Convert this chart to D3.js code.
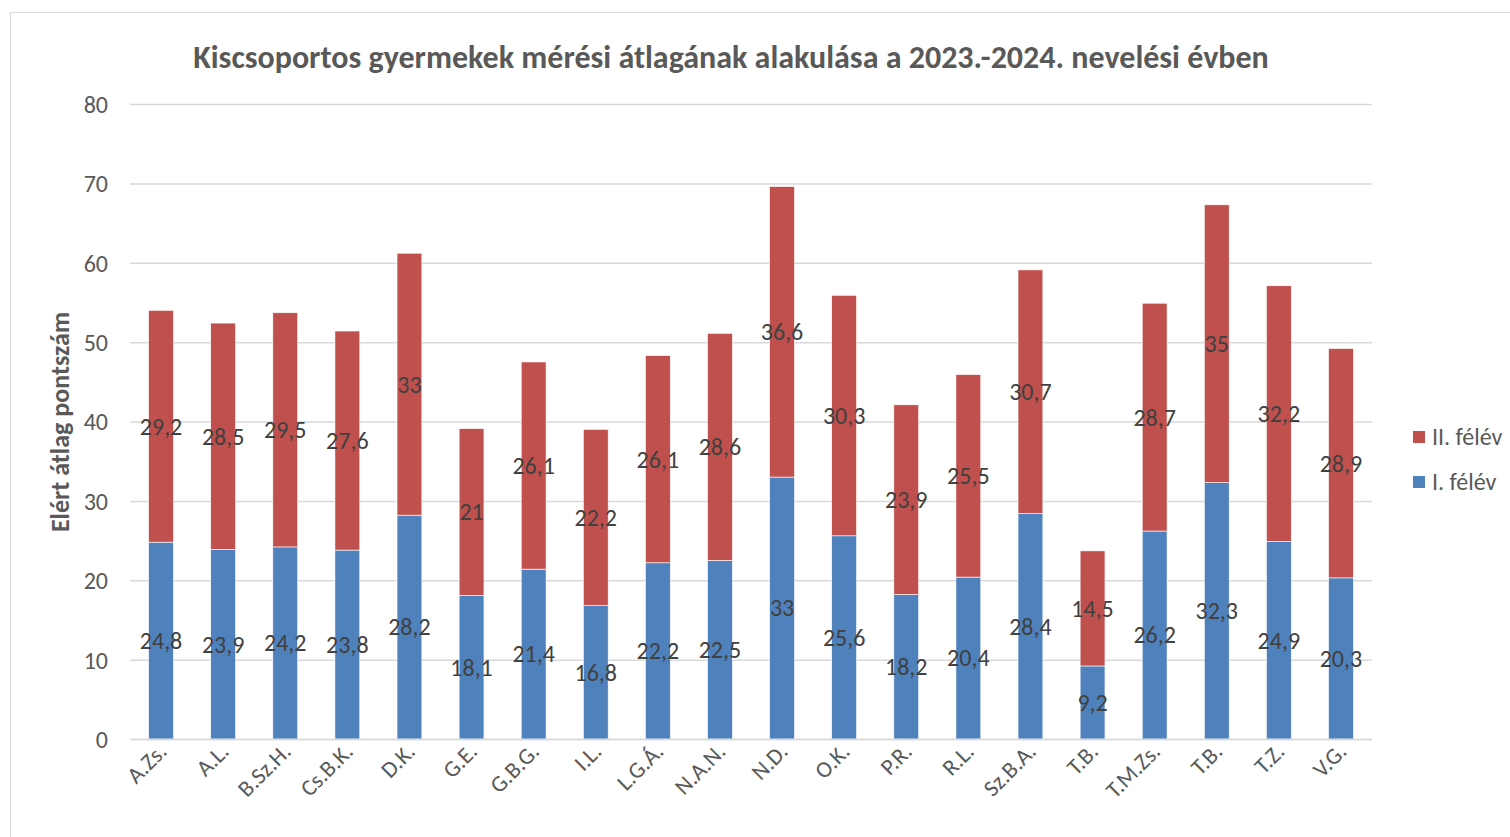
<!DOCTYPE html>
<html><head><meta charset="utf-8">
<script src="https://cdn.jsdelivr.net/npm/d3@7"></script>
<style>body{margin:0;background:#fff}svg{display:block}</style>
</head><body>
<svg id="c" width="1510" height="837"></svg>
<script>
const categories = ["A.Zs.","A.L.","B.Sz.H.","Cs.B.K.","D.K.","G.E.","G.B.G.","I.L.","L.G.Á.","N.A.N.","N.D.","O.K.","P.R.","R.L.","Sz.B.A.","T.B.","T.M.Zs.","T.B.","T.Z.","V.G."];
const semester1 = [24.8,23.9,24.2,23.8,28.2,18.1,21.4,16.8,22.2,22.5,33,25.6,18.2,20.4,28.4,9.2,26.2,32.3,24.9,20.3];
const semester2 = [29.2,28.5,29.5,27.6,33,21,26.1,22.2,26.1,28.6,36.6,30.3,23.9,25.5,30.7,14.5,28.7,35,32.2,28.9];
const seriesNames = ["I. félév","II. félév"];
const yTicks = [0,10,20,30,40,50,60,70,80];

(function(){
const colors = ["#4F81BD","#C0504D"];
const font = "Calibri, Carlito, 'Open Sans', sans-serif";
const svg = d3.select("#c");

svg.append("rect").attr("x",10.5).attr("y",12.5).attr("width",1520).attr("height",900)
  .attr("fill","none").attr("stroke","#D9D9D9").attr("stroke-width",1);

const pl = 130, pr = 1372, pt = 104, pb = 739;
const idx = categories.map((d,i)=>i);
const x = d3.scaleBand().domain(idx).range([pl,pr]).paddingInner(0.6).paddingOuter(0.3);
const y = d3.scaleLinear().domain([0,80]).range([pb,pt]);

svg.append("g").selectAll("line").data(yTicks).join("line")
  .attr("x1",pl).attr("x2",pr).attr("y1",d=>y(d)+0.5).attr("y2",d=>y(d)+0.5)
  .attr("stroke","#D9D9D9").attr("stroke-width",1.5);

const yAxis = d3.axisLeft(y).tickValues(yTicks).tickSize(0).tickPadding(0);
const yg = svg.append("g").attr("transform",`translate(${pl-22},0)`).call(yAxis);
yg.select(".domain").remove();
yg.selectAll("text").attr("font-family",font).attr("font-size",24).attr("fill","#595959").attr("dy","0.35em");

const stacked = categories.map((c,i)=>({i, v:[semester1[i],semester2[i]]}));
const fmt = v => String(v).replace(".",",");

[0,1].forEach(s=>{
  const g = svg.append("g");
  stacked.forEach(d=>{
    const base = s===0?0:d.v[0];
    const t2 = base + d.v[s];
    g.append("rect").attr("x",x(d.i)).attr("width",x.bandwidth())
      .attr("y",y(t2)).attr("height",y(base)-y(t2))
      .attr("fill",colors[s]).attr("stroke","#fff").attr("stroke-width",0.6);
  });
});
[0,1].forEach(s=>{
  stacked.forEach(d=>{
    const base = s===0?0:d.v[0];
    const mid = base + d.v[s]/2;
    svg.append("text").attr("x",x(d.i)+x.bandwidth()/2).attr("y",y(mid))
      .attr("dy","0.35em").attr("text-anchor","middle")
      .attr("font-family",font).attr("font-size",24).attr("fill","#404040")
      .text(fmt(d.v[s]));
  });
});

svg.append("line").attr("x1",pl).attr("x2",pr).attr("y1",pb+0.5).attr("y2",pb+0.5)
  .attr("stroke","#D9D9D9").attr("stroke-width",1.5);

const xAxis = d3.axisBottom(x).tickFormat(i=>categories[i]).tickSize(0);
const xg = svg.append("g").attr("transform",`translate(0,${pb})`).call(xAxis);
xg.select(".domain").remove();
xg.selectAll("text").attr("font-family",font).attr("font-size",23).attr("fill","#595959")
  .attr("text-anchor","end").attr("dy",0).attr("y",0)
  .attr("transform","translate(7,14) rotate(-45)");

svg.append("text").attr("x",731).attr("y",68).attr("text-anchor","middle")
  .attr("font-family",font).attr("font-weight","bold").attr("font-size",32).attr("fill","#595959")
  .text("Kiscsoportos gyermekek mérési átlagának alakulása a 2023.-2024. nevelési évben");

svg.append("text").attr("transform","translate(69,422) rotate(-90)").attr("text-anchor","middle")
  .attr("font-family",font).attr("font-weight","bold").attr("font-size",26).attr("fill","#595959")
  .text("Elért átlag pontszám");

const legendItems = [{n:seriesNames[1],c:colors[1]},{n:seriesNames[0],c:colors[0]}];
const lg = svg.append("g").selectAll("g").data(legendItems).join("g")
  .attr("transform",(d,i)=>`translate(1413,${437+i*45})`);
lg.append("rect").attr("x",0).attr("y",-6).attr("width",12).attr("height",12).attr("fill",d=>d.c);
lg.append("text").attr("x",19).attr("y",0).attr("dy","0.35em")
  .attr("font-family",font).attr("font-size",24).attr("fill","#595959").text(d=>d.n);
})();
</script>
</body></html>
